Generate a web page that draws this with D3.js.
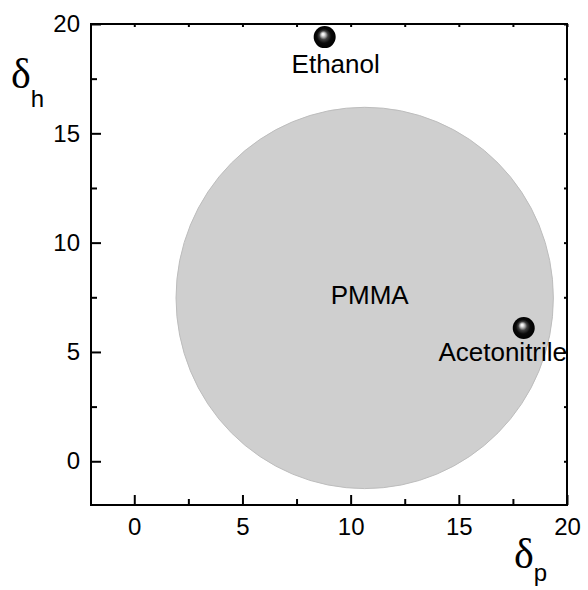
<!DOCTYPE html>
<html>
<head>
<meta charset="utf-8">
<script src="https://cdn.jsdelivr.net/npm/d3@7"></script>
<style>
  html, body { margin: 0; padding: 0; background: #fff; }
  svg { display: block; }
  text { font-family: "Liberation Sans", Arial, sans-serif; fill: #000; }
</style>
</head>
<body>
<svg id="chart" width="588" height="590"></svg>
<script>
// ---- data ----
const xDomain = [-2, 20];
const yDomain = [-2, 20];
const majorTicks = [0, 5, 10, 15, 20];
const minorTicks = [2.5, 7.5, 12.5, 17.5];
const polymerName = ["PMMA"];
const polymerDp = [10.65];
const polymerDh = [7.47];
const polymerR0 = [8.72];
const solventNames = ["Ethanol", "Acetonitrile"];
const solventDp = [8.8, 18.0];
const solventDh = [19.4, 6.1];

// ---- layout ----
const svg = d3.select("#chart");
const L = 91, R = 567, T = 24, B = 505;
const x = d3.scaleLinear().domain(xDomain).range([L, R]);
const y = d3.scaleLinear().domain(yDomain).range([B, T]);

const defs = svg.append("defs");
const grad = defs.append("radialGradient").attr("id", "ball")
  .attr("cx", "0.5").attr("cy", "0.5").attr("r", "0.5")
  .attr("fx", "0.42").attr("fy", "0.36");
[[0, "#ffffff"], [0.1, "#f0f0f0"], [0.24, "#a8a8a8"], [0.4, "#404040"], [0.65, "#0a0a0a"], [1, "#000000"]]
  .forEach(([o, c]) => grad.append("stop").attr("offset", o).attr("stop-color", c));

// polymer sphere (circle in data units)
const annoFont = 26;
const poly = svg.append("g");
polymerName.forEach((n, i) => {
  poly.append("ellipse")
    .attr("cx", x(polymerDp[i])).attr("cy", y(polymerDh[i]))
    .attr("rx", x(polymerR0[i]) - x(0)).attr("ry", y(0) - y(polymerR0[i]))
    .attr("fill", "#cfcfcf").attr("stroke", "#bdbdbd").attr("stroke-width", 1);
  poly.append("text")
    .attr("x", x(polymerDp[i]) + 5).attr("y", y(polymerDh[i]) + 6)
    .attr("text-anchor", "middle").attr("font-size", annoFont).text(n);
});

// axes
const tickFont = 24;
const xBottom = d3.axisBottom(x).tickValues(majorTicks).tickSize(-10).tickPadding(13).tickFormat(d3.format("d"));
const xBottomMinor = d3.axisBottom(x).tickValues(minorTicks).tickSize(-6).tickFormat("");
const yLeft = d3.axisLeft(y).tickValues(majorTicks).tickSize(-10).tickPadding(11).tickFormat(d3.format("d"));
const yLeftMinor = d3.axisLeft(y).tickValues(minorTicks).tickSize(-6).tickFormat("");
const xTop = d3.axisTop(x).tickValues(majorTicks.concat(minorTicks)).tickSize(-3).tickFormat("");
const yRight = d3.axisRight(y).tickValues(majorTicks.concat(minorTicks)).tickSize(-3).tickFormat("");

function styleAxis(g) {
  g.select(".domain").remove();
  g.selectAll("line").attr("stroke", "#000").attr("stroke-width", 2);
  g.selectAll("text").attr("font-size", tickFont).attr("font-family", "Liberation Sans, Arial, sans-serif").attr("fill", "#000");
}
svg.append("g").attr("transform", `translate(0,${B})`).call(xBottom).call(styleAxis);
svg.append("g").attr("transform", `translate(0,${B})`).call(xBottomMinor).call(styleAxis);
svg.append("g").attr("transform", `translate(${L},0)`).call(yLeft).call(styleAxis);
svg.append("g").attr("transform", `translate(${L},0)`).call(yLeftMinor).call(styleAxis);
svg.append("g").attr("transform", `translate(0,${T})`).call(xTop).call(styleAxis);
svg.append("g").attr("transform", `translate(${R},0)`).call(yRight).call(styleAxis);

svg.append("rect").attr("x", L).attr("y", T).attr("width", R - L).attr("height", B - T)
  .attr("fill", "none").attr("stroke", "#000").attr("stroke-width", 2);

// solvents
const labelOffsets = [[11, 36], [-21, 33]];
const sg = svg.append("g");
solventNames.forEach((n, i) => {
  const cx = x(solventDp[i]), cy = y(solventDh[i]);
  sg.append("circle").attr("cx", cx).attr("cy", cy).attr("r", 11).attr("fill", "url(#ball)");
  sg.append("text").attr("x", cx + labelOffsets[i][0]).attr("y", cy + labelOffsets[i][1])
    .attr("text-anchor", "middle").attr("font-size", annoFont).text(n);
});

// axis titles
const yt = svg.append("text").attr("x", 11).attr("y", 88);
yt.append("tspan").attr("font-family", "Liberation Serif, Times New Roman, serif").attr("font-size", 42).text("δ");
yt.append("tspan").attr("font-size", 24).attr("dy", 19).text("h");
const xt = svg.append("text").attr("x", 514).attr("y", 568);
xt.append("tspan").attr("font-family", "Liberation Serif, Times New Roman, serif").attr("font-size", 42).text("δ");
xt.append("tspan").attr("font-size", 24).attr("dy", 13).text("p");
</script>
</body>
</html>
